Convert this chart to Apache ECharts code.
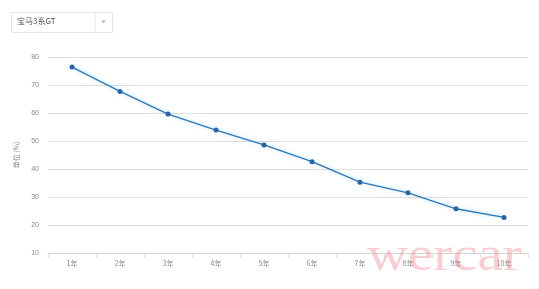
<!DOCTYPE html>
<html>
<head>
<meta charset="utf-8">
<script src="https://cdn.jsdelivr.net/npm/echarts@6/dist/echarts.min.js"></script>
<style>
html,body{margin:0;padding:0;background:#fff;}
#c{width:539px;height:289px;}
</style>
</head>
<body>
<div id="c"></div>
<script>
var categories = ['1年','2年','3年','4年','5年','6年','7年','8年','9年','10年'];
var values = [76.4, 67.7, 59.6, 53.9, 48.6, 42.6, 35.3, 31.5, 25.8, 22.7];
var yTicks = {min: 10, max: 80, interval: 10};
var selectorLabel = '宝马3系GT';
var yName = '单位 (%)';
var watermark = 'wercar';

var chart = echarts.init(document.getElementById('c'), null, {renderer: 'canvas'});
chart.setOption({
  animation: false,
  backgroundColor: '#fff',
  grid: {left: 48, right: 11, top: 57, bottom: 36, containLabel: false},
  xAxis: {
    type: 'category',
    data: categories,
    boundaryGap: true,
    axisLine: {lineStyle: {color: '#d8d8d8'}},
    axisTick: {show: true, length: 5, lineStyle: {color: '#e0e0e0'}},
    axisLabel: {color: '#888', fontSize: 7, margin: 7, fontFamily: 'Noto Sans CJK SC'}
  },
  yAxis: {
    type: 'value',
    min: yTicks.min, max: yTicks.max, interval: yTicks.interval,
    name: yName,
    nameLocation: 'middle',
    nameGap: 19,
    nameRotate: 90,
    nameTextStyle: {color: '#888', fontSize: 7, fontFamily: 'Noto Sans CJK SC'},
    axisLine: {show: false},
    axisTick: {show: false},
    axisLabel: {color: '#888', fontSize: 7, margin: 9},
    splitLine: {lineStyle: {color: '#dedede'}}
  },
  series: [{
    type: 'line',
    data: values,
    symbol: 'circle',
    symbolSize: 5,
    lineStyle: {color: '#2c78b8', width: 1.3, shadowColor: 'rgba(120,190,240,0.6)', shadowBlur: 4},
    itemStyle: {color: '#2466a4'}
  }],
  graphic: [
    {type: 'rect', left: 11, top: 12, shape: {width: 101, height: 20},
     style: {fill: '#fff', stroke: '#e6e6e6', lineWidth: 1}},
    {type: 'line', shape: {x1: 95, y1: 13, x2: 95, y2: 31}, style: {stroke: '#e6e6e6', lineWidth: 1}},
    {type: 'polygon', shape: {points: [[101, 20.5], [106, 20.5], [103.5, 23]]}, style: {fill: '#aaa'}},
    {type: 'text', left: 17, top: 17, style: {text: selectorLabel, fill: '#555', fontSize: 8, fontFamily: 'Noto Sans CJK SC'}},
    {type: 'text', x: 367, y: 233, scaleX: 1.16, z: 100,
     style: {text: watermark, fill: 'rgba(240,130,140,0.4)', fontSize: 49, fontFamily: 'Liberation Serif'}}
  ]
});
</script>
</body>
</html>
